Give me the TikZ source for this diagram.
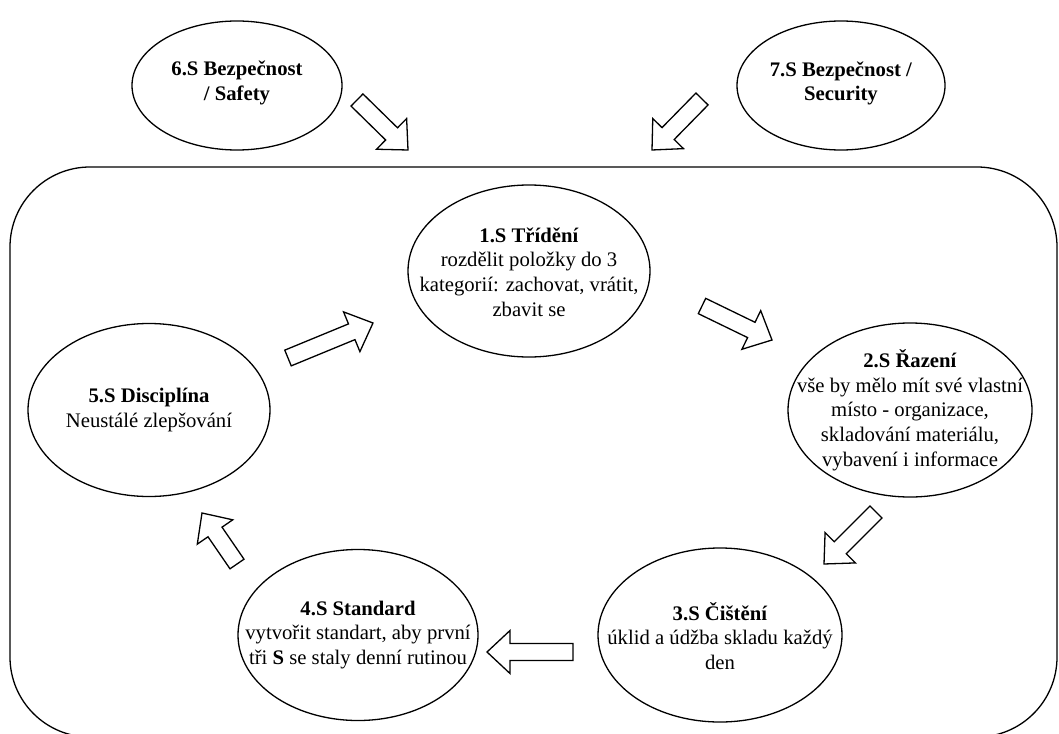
\documentclass[tikz,border=0pt]{standalone}
\usepackage{fontspec}
\setmainfont{Liberation Serif}
\usetikzlibrary{calc,shapes.geometric}
\tikzset{
  ell/.style={draw, ellipse, line width=1.3pt, inner sep=0pt},
  lbl/.style={align=center, inner sep=0pt, font=\fontsize{20.7pt}{24.7pt}\selectfont},
  blockarr/.style={draw, line width=1.3pt, fill=white, line join=miter},
  frame/.style={draw, line width=1.3pt, rounded corners=80pt}
}
\newcommand{\blockarrow}[2]{%
  \path let \p1=($(#2)-(#1)$) in \pgfextra{%
    \pgfmathsetmacro{\bal}{veclen(\x1,\y1)}%
    \pgfmathsetmacro{\baa}{atan2(\y1,\x1)}%
    \xdef\barlen{\bal}\xdef\barang{\baa}};
  \begin{scope}[shift={(#1)},rotate=\barang]
    \draw[blockarr] (0pt,-8.5pt) -- ({\barlen pt-23pt},-8.5pt) -- ({\barlen pt-23pt},-21.5pt)
      -- ({\barlen pt},0pt) -- ({\barlen pt-23pt},21.5pt) -- ({\barlen pt-23pt},8.5pt)
      -- (0pt,8.5pt) -- cycle;
  \end{scope}}
\begin{document}
\begin{tikzpicture}[x=1pt,y=-1pt]
\useasboundingbox (0,0) rectangle (1059,733);
\draw[frame] (10,167) rectangle (1057,737);

% ellipses
\node[ell, minimum width=210pt, minimum height=129pt] (s6) at (237,85.5) {};
\node[ell, minimum width=208pt, minimum height=129pt] (s7) at (841,85.5) {};
\node[ell, minimum width=242pt, minimum height=172pt] (s1) at (529,271) {};
\node[ell, minimum width=244pt, minimum height=174pt] (s2) at (910,410) {};
\node[ell, minimum width=244pt, minimum height=174pt] (s3) at (720,635) {};
\node[ell, minimum width=240pt, minimum height=171pt] (s4) at (358,635) {};
\node[ell, minimum width=242pt, minimum height=173pt] (s5) at (149,410) {};

% texts
\node[lbl] (t6) at (237,83) {\textbf{6.S Bezpečnost}\\\textbf{/ Safety}};
\node[lbl] (t7) at (841,83.5) {\textbf{7.S Bezpečnost /}\\\textbf{Security}};
\node[lbl] (t1) at (529,272) {\textbf{1.S Třídění}\\rozdělit položky do 3\\kategorií: zachovat, vrátit,\\zbavit se};
\node[lbl] (t2) at (910,410) {\textbf{2.S Řazení}\\vše by mělo mít své vlastní\\místo - organizace,\\skladování materiálu,\\vybavení i informace};
\node[lbl] (t3) at (720,636) {\textbf{3.S Čištění}\\úklid a údžba skladu každý\\den};
\node[lbl] (t4) at (358,635) {\textbf{4.S Standard}\\vytvořit standart, aby první\\tři \textbf{S} se staly denní rutinou};
\node[lbl] (t5) at (149,410) {\textbf{5.S Disciplína}\\Neustálé zlepšování};

% arrow end points
\coordinate (a6s) at (357,100);  \coordinate (a6e) at (408,150);
\coordinate (a7s) at (702,99);   \coordinate (a7e) at (652,150);
\coordinate (a51s) at (288,358); \coordinate (a51e) at (373,323);
\coordinate (a12s) at (702,306); \coordinate (a12e) at (772,340);
\coordinate (a23s) at (876,512); \coordinate (a23e) at (824,564);
\coordinate (a34s) at (573,652); \coordinate (a34e) at (487,652);
\coordinate (a45s) at (237,564); \coordinate (a45e) at (202,513);

\blockarrow{a6s}{a6e}
\blockarrow{a7s}{a7e}
\blockarrow{a51s}{a51e}
\blockarrow{a12s}{a12e}
\blockarrow{a23s}{a23e}
\blockarrow{a34s}{a34e}
\blockarrow{a45s}{a45e}
\end{tikzpicture}
\end{document}
